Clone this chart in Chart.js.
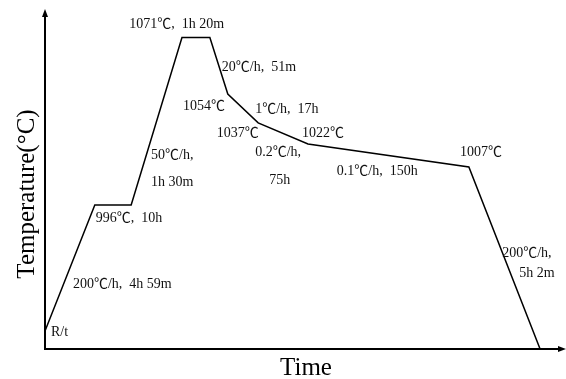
<!DOCTYPE html>
<html>
<head>
<meta charset="utf-8">
<script src="https://cdn.jsdelivr.net/npm/chart.js@4.4.1/dist/chart.umd.min.js"></script>
<style>
  html, body { margin: 0; padding: 0; background: #fff; }
  #wrap { width: 566px; height: 379px; }
</style>
</head>
<body>
<div id="wrap"><canvas id="chart" width="566" height="379"></canvas></div>
<script>
// schematic heat-treatment profile (axis units are schematic)
const timePoints = [0, 10.0, 17.3, 27.5, 33.1, 36.7, 42.8, 52.8, 85.1, 99.4];
const tempPoints = [5.3, 42.5, 42.5, 91.9, 91.9, 75.2, 66.7, 60.5, 53.7, 0];

// text notes on the curve: [text, x, y] in the same schematic units
const notes = [
  ['1071℃,  1h 20m', 16.9, 95.9],
  ['20℃/h,  51m', 35.5, 83.2],
  ['1054℃', 27.7, 71.7],
  ['1℃/h,  17h', 42.2, 70.8],
  ['1037℃', 34.5, 63.7],
  ['1022℃', 51.6, 63.7],
  ['0.2℃/h,', 42.2, 58.1],
  ['75h', 45.0, 49.9],
  ['50℃/h,', 21.3, 57.2],
  ['1h 30m', 21.3, 49.3],
  ['996℃,  10h', 10.2, 38.6],
  ['200℃/h,  4h 59m', 5.6, 19.2],
  ['R/t', 1.2, 5.0],
  ['0.1℃/h,  150h', 58.6, 52.5],
  ['1007℃', 83.3, 58.1],
  ['200℃/h,', 91.8, 28.3],
  ['5h 2m', 95.2, 22.4]
];

const xTitle = 'Time';
const yTitle = 'Temperature(°C)';

const serif = "'Liberation Serif', 'Noto Sans CJK SC', serif";

const drawExtras = {
  id: 'drawExtras',
  afterDraw(chart) {
    const ctx = chart.ctx;
    const area = chart.chartArea;
    const xs = chart.scales.x;
    const ys = chart.scales.y;
    ctx.save();

    // axes with arrows
    ctx.strokeStyle = '#000';
    ctx.fillStyle = '#000';
    ctx.lineWidth = 2;
    ctx.beginPath();
    ctx.moveTo(area.left, area.bottom);
    ctx.lineTo(area.left, area.top + 4);
    ctx.moveTo(area.left - 1, area.bottom);
    ctx.lineTo(area.right, area.bottom);
    ctx.stroke();

    ctx.beginPath();
    ctx.moveTo(area.left, area.top - 1);
    ctx.lineTo(area.left - 3, area.top + 7);
    ctx.lineTo(area.left + 3, area.top + 7);
    ctx.closePath();
    ctx.fill();

    ctx.beginPath();
    ctx.moveTo(area.right + 3, area.bottom);
    ctx.lineTo(area.right - 5, area.bottom - 3);
    ctx.lineTo(area.right - 5, area.bottom + 3);
    ctx.closePath();
    ctx.fill();

    // notes
    ctx.fillStyle = '#111';
    ctx.font = '14px ' + serif;
    ctx.textBaseline = 'middle';
    ctx.textAlign = 'left';
    notes.forEach(n => {
      ctx.fillText(n[0], xs.getPixelForValue(n[1]), ys.getPixelForValue(n[2]));
    });

    // axis titles
    ctx.fillStyle = '#000';
    ctx.font = '25px ' + serif;
    ctx.textAlign = 'center';
    ctx.fillText(xTitle, (area.left + area.right) / 2 + 2, area.bottom + 19);

    ctx.translate(27, 194);
    ctx.rotate(-Math.PI / 2);
    ctx.fillText(yTitle, 0, 0);
    ctx.restore();
  }
};

new Chart(document.getElementById('chart'), {
  type: 'line',
  data: {
    datasets: [{
      data: timePoints.map((t, i) => ({ x: t, y: tempPoints[i] })),
      borderColor: '#000',
      borderWidth: 1.5,
      pointRadius: 0,
      tension: 0,
      fill: false
    }]
  },
  options: {
    responsive: false,
    animation: false,
    layout: { padding: { left: 45, right: 3, top: 10, bottom: 30 } },
    plugins: {
      legend: { display: false },
      tooltip: { enabled: false }
    },
    scales: {
      x: { type: 'linear', min: 0, max: 104, display: false },
      y: { type: 'linear', min: 0, max: 100, display: false }
    }
  },
  plugins: [drawExtras]
});
</script>
</body>
</html>
